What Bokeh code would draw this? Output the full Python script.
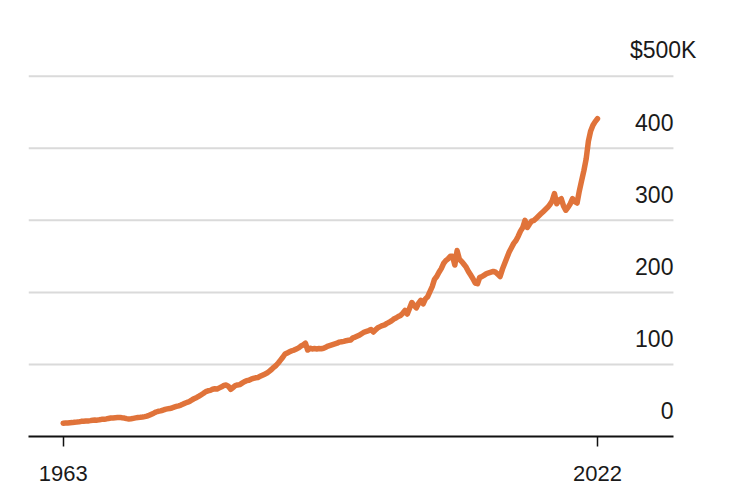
from bokeh.plotting import figure
from bokeh.models import Range1d, FixedTicker, Label
from bokeh.embed import file_html
from bokeh.resources import INLINE

# Median home price, quarterly, thousands of dollars
start_year = 1963
prices = [
    18.5, 18.8, 18.6, 19.0,      # 1963
    19.3, 19.8, 20.0, 20.3,      # 1964
    21.0, 21.2, 21.5, 21.6,      # 1965
    22.0, 22.6, 22.8, 22.7,      # 1966
    23.2, 23.8, 24.0, 24.4,      # 1967
    25.0, 25.6, 25.8, 26.1,      # 1968
    26.3, 26.5, 26.0, 25.6,      # 1969
    24.8, 24.3, 24.6, 25.2,      # 1970
    25.8, 26.3, 26.6, 27.0,      # 1971
    27.6, 28.3, 29.5, 31.0,      # 1972
    32.4, 34.0, 35.0, 35.6,      # 1973
    36.4, 37.6, 38.3, 38.8,      # 1974
    39.6, 40.8, 41.8, 42.6,      # 1975
    43.6, 45.0, 46.5, 47.6,      # 1976
    49.0, 51.0, 52.8, 54.2,      # 1977
    56.0, 58.0, 60.0, 62.3,      # 1978
    63.4, 64.0, 65.5, 66.2,      # 1979
    66.0, 67.5, 69.0, 70.8,      # 1980
    71.5, 69.5, 65.5, 68.0,      # 1981
    70.5, 71.5, 72.0, 74.0,      # 1982
    76.0, 77.5, 78.0, 79.5,      # 1983
    80.5, 81.5, 82.0, 83.5,      # 1984
    85.0, 86.5, 88.0, 90.5,      # 1985
    93.0, 96.0, 98.5, 102.0,     # 1986
    106.0, 110.0, 114.5, 116.0,  # 1987
    117.5, 119.0, 120.0, 121.5,  # 1988
    123.0, 125.5, 127.0, 129.5,  # 1989
    120.0, 122.5, 121.5, 122.0,  # 1990
    121.5, 122.0, 121.8, 122.5,  # 1991
    124.0, 125.5, 126.5, 127.5,  # 1992
    128.5, 129.5, 131.0, 131.5,  # 1993
    132.0, 133.0, 133.5, 134.0,  # 1994
    137.0, 138.0, 139.5, 141.0,  # 1995
    143.0, 145.0, 146.0, 147.0,  # 1996
    148.5, 145.0, 148.0, 151.0,  # 1997
    152.5, 154.0, 155.0, 157.0,  # 1998
    158.5, 160.5, 163.0, 164.5,  # 1999
    166.5, 168.0, 171.0, 175.0,  # 2000
    170.0, 178.0, 186.0, 182.0,  # 2001
    178.5, 185.0, 189.0, 184.0,  # 2002
    191.0, 194.0, 201.0, 208.0,  # 2003
    218.0, 222.0, 228.0, 233.0,  # 2004
    240.0, 244.0, 246.5, 250.0,  # 2005
    250.0, 238.0, 258.0, 246.0,  # 2006
    243.0, 239.0, 235.0, 229.0,  # 2007
    224.0, 219.0, 213.0, 212.0,  # 2008
    221.0, 222.0, 224.0, 226.0,  # 2009
    227.0, 228.0, 229.0, 228.0,  # 2010
    225.0, 222.0, 232.0, 240.0,  # 2011
    248.0, 256.0, 262.0, 268.0,  # 2012
    272.0, 278.0, 285.0, 290.0,  # 2013
    300.0, 290.0, 295.0, 299.0,  # 2014
    300.0, 303.0, 306.0, 309.0,  # 2015
    312.0, 315.0, 318.0, 322.0,  # 2016
    327.0, 337.0, 323.0, 328.0,  # 2017
    330.0, 320.0, 314.0, 318.0,  # 2018
    323.0, 330.0, 326.0, 324.0,  # 2019
    341.0, 355.0, 369.0, 385.0,  # 2020
    410.0, 424.0, 432.0, 437.0,  # 2021
    441.0,                       # 2022
]
years = [start_year + i / 4 for i in range(len(prices))]

x_ticks = [1963, 2022]
x_tick_labels = ["1963", "2022"]
y_ticks = [0, 100, 200, 300, 400, 500]
y_tick_labels = ["0", "100", "200", "300", "400", "$500K"]

FONT = "Liberation Sans"
TEXT_COLOR = "#1a1a1a"

x_start, x_grid_end, x_end = 1959.17, 2030.39, 2033.93
p = figure(
    width=720, height=495,
    x_range=Range1d(x_start, x_end),
    y_range=Range1d(0, 577.3),
    output_backend="svg", toolbar_location=None,
    min_border_left=28, min_border_right=15,
    min_border_top=20, min_border_bottom=59,
)
p.outline_line_color = None
p.background_fill_color = "white"
p.border_fill_color = "white"

p.xgrid.visible = False
p.ygrid.visible = False
p.yaxis.visible = False

# horizontal grid lines, ending where the axis ends
grid_vals = y_ticks[1:]
p.segment(x0=[x_start] * len(grid_vals), x1=[x_grid_end] * len(grid_vals),
          y0=grid_vals, y1=grid_vals, line_color="#dadada", line_width=2)

# x axis
xa = p.xaxis[0]
xa.bounds = (x_start, x_grid_end)
xa.ticker = FixedTicker(ticks=x_ticks)
xa.major_label_overrides = dict(zip(x_ticks, x_tick_labels))
xa.axis_line_color = "#111111"
xa.axis_line_width = 2
xa.major_tick_line_color = "#111111"
xa.major_tick_line_width = 1.5
xa.major_tick_out = 10
xa.major_tick_in = 0
xa.minor_tick_line_color = None
xa.major_label_text_font = FONT
xa.major_label_text_font_size = "22px"
xa.major_label_text_color = TEXT_COLOR
xa.major_label_standoff = 19

p.line(years, prices, line_color="#E0733A", line_width=5.5, line_join="round", line_cap="round")

for v, t in zip(y_ticks, y_tick_labels):
    p.add_layout(Label(
        x=x_grid_end, y=v, text=t,
        text_align="right", text_baseline="alphabetic",
        x_offset=23 if t.startswith("$") else 0, y_offset=26,
        text_font=FONT, text_font_size="23px", text_color=TEXT_COLOR,
    ))

open("out.html", "w").write(file_html(p, INLINE))
